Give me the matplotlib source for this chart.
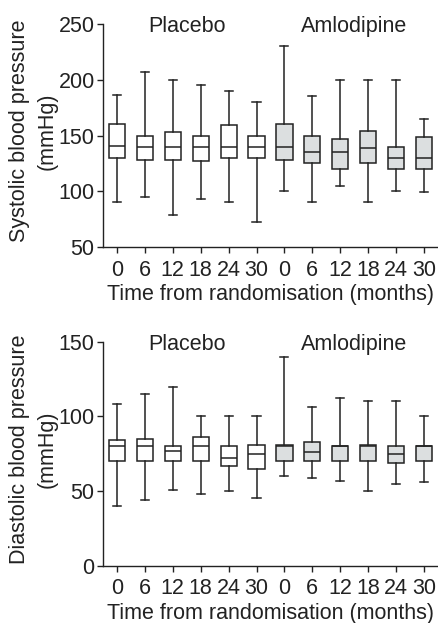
import matplotlib
matplotlib.use("Agg")
import matplotlib.pyplot as plt

plt.rcParams['font.family'] = ['Liberation Sans', 'DejaVu Sans']

months = ['0', '6', '12', '18', '24', '30', '0', '6', '12', '18', '24', '30']
groups = ['Placebo', 'Amlodipine']

# systolic: whisker low, q1, median, q3, whisker high (6 placebo then 6 amlodipine)
sys_low = [90, 95, 79, 93, 90, 72, 100, 90, 105, 90, 100, 99]
sys_q1 = [130, 128, 128, 127, 130, 130, 128, 125, 120, 125, 120, 120]
sys_med = [141, 140, 140, 140, 140, 140, 140, 135, 135, 139, 130, 130]
sys_q3 = [160, 150, 153, 150, 159, 150, 160, 150, 147, 154, 140, 149]
sys_high = [186, 207, 200, 195, 190, 180, 230, 185, 200, 200, 200, 165]

# diastolic
dia_low = [40, 44, 51, 48, 50, 45, 60, 59, 57, 50, 55, 56]
dia_q1 = [70, 70, 70, 70, 67, 65, 70, 70, 70, 70, 69, 70]
dia_med = [80, 80, 77, 80, 72, 75, 80, 76, 80, 80, 75, 80]
dia_q3 = [84, 85, 80, 86, 80, 81, 80.6, 83, 80, 80.8, 80, 80]
dia_high = [108, 115, 120, 100, 100, 100, 140, 106, 112, 110, 110, 100]

ink = '#222222'
fills = ['white'] * 6 + ['#dcdfe0'] * 6


def draw_panel(ax, low, q1, med, q3, high, ylim, yticks, ylabel):
    stats = []
    for i in range(len(months)):
        stats.append({'whislo': low[i], 'q1': q1[i], 'med': med[i],
                      'q3': q3[i], 'whishi': high[i], 'fliers': []})
    pos = list(range(1, len(months) + 1))
    lw = 1.1
    bp = ax.bxp(stats, positions=pos, widths=0.58, patch_artist=True,
                showfliers=False,
                boxprops=dict(edgecolor=ink, linewidth=lw),
                medianprops=dict(color=ink, linewidth=lw),
                whiskerprops=dict(color=ink, linewidth=lw),
                capprops=dict(color=ink, linewidth=lw))
    for patch, c in zip(bp['boxes'], fills):
        patch.set_facecolor(c)

    ax.set_xlim(0.5, 12.5)
    ax.set_ylim(*ylim)
    ax.set_yticks(yticks)
    ax.set_xticks(pos)
    ax.set_xticklabels(months)
    ax.spines['top'].set_visible(False)
    ax.spines['right'].set_visible(False)
    for s in ['left', 'bottom']:
        ax.spines[s].set_color(ink)
        ax.spines[s].set_linewidth(1.0)
    ax.tick_params(axis='both', direction='out', length=4, width=1.0,
                   colors=ink, labelsize=15.5, labelcolor=ink)
    ax.tick_params(axis='x', pad=5)
    ax.tick_params(axis='y', pad=2)

    # group names sit just under the top of the axes
    tr = ax.get_xaxis_transform()
    ax.text(3.5, 0.965, groups[0], ha='center', va='baseline',
            fontsize=15.5, color=ink, transform=tr)
    ax.text(9.5, 0.965, groups[1], ha='center', va='baseline',
            fontsize=15.5, color=ink, transform=tr)

    ax.set_ylabel(ylabel, fontsize=15.5, color=ink, linespacing=1.4)
    ax.yaxis.set_label_coords(-0.135, 0.52)
    ax.set_xlabel('Time from randomisation (months)', fontsize=15.5, color=ink)
    ax.xaxis.set_label_coords(0.5, -0.165)


fig = plt.figure(figsize=(4.39, 6.23), dpi=100)
ax1 = fig.add_axes([0.2346, 0.6035, 0.763, 0.358])
ax2 = fig.add_axes([0.2346, 0.092, 0.763, 0.3595])

draw_panel(ax1, sys_low, sys_q1, sys_med, sys_q3, sys_high,
           (50, 250), [50, 100, 150, 200, 250],
           'Systolic blood pressure\n(mmHg)')
draw_panel(ax2, dia_low, dia_q1, dia_med, dia_q3, dia_high,
           (0, 150), [0, 50, 100, 150],
           'Diastolic blood pressure\n(mmHg)')

fig.savefig('out.png', dpi=100)
